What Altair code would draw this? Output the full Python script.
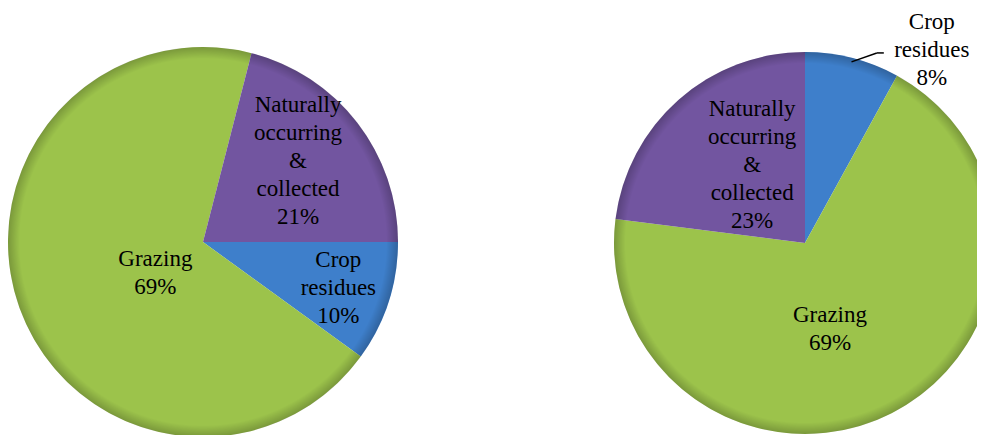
import math
import altair as alt
import pandas as pd

# ---- data ----
categories = ["Crop residues", "Grazing", "Naturally occurring & collected"]
label_names = ["Crop\nresidues", "Grazing", "Naturally\noccurring\n&\ncollected"]
left_values = [10, 69, 21]
right_values = [8, 69, 23]
colors = ["#3E7FCB", "#9CC34B", "#7255A0"]

LINE_H = 28


def make_df(values):
    return pd.DataFrame({
        "cat": categories,
        "value": values,
        "ord": list(range(len(categories))),
        "label": [f"{n}\n{v}%" for n, v in zip(label_names, values)],
    })


def cat_expr(mapping):
    expr = "0"
    for k, v in mapping.items():
        expr = f"(datum.cat == '{k}' ? {v} : {expr})"
    return expr


color_scale = alt.Scale(domain=categories, range=colors)

rim = {
    "gradient": "radial",
    "x1": 0.5, "y1": 0.5, "r1": 0,
    "x2": 0.5, "y2": 0.5, "r2": 0.5,
    "stops": [
        {"offset": 0, "color": "rgba(0,0,0,0)"},
        {"offset": 0.94, "color": "rgba(0,0,0,0)"},
        {"offset": 1, "color": "rgba(0,0,0,0.22)"},
    ],
}


def pie(values, cx, cy, R, start_deg, lab_r, lab_adj_deg, leader=None):
    start = math.radians(start_deg)
    adj = {k: math.radians(v) for k, v in lab_adj_deg.items()}
    base = (
        alt.Chart(make_df(values))
        .transform_window(cum="sum(value)", sort=[alt.SortField("ord")], frame=[None, 0])
        .transform_joinaggregate(total="sum(value)")
        .transform_calculate(
            t0=f"{start} + 2*PI*(datum.cum - datum.value)/datum.total",
            t1=f"{start} + 2*PI*datum.cum/datum.total",
        )
        .transform_calculate(
            tm="(datum.t0 + datum.t1)/2",
            lr=cat_expr(lab_r),
            nl="length(split(datum.label, '\\n'))",
        )
        .transform_calculate(ta=f"datum.tm + {cat_expr(adj)}")
        .transform_calculate(
            lx=f"{cx} + datum.lr*sin(datum.ta)",
            ly=f"{cy} - datum.lr*cos(datum.ta)",
        )
        .transform_calculate(ly0=f"datum.ly - (datum.nl - 1)*{LINE_H}/2")
    )
    arcs = base.mark_arc(radius=R).encode(
        theta=alt.Theta("t0:Q", scale=None),
        theta2=alt.Theta2("t1:Q"),
        color=alt.Color("cat:N", scale=color_scale, legend=None),
        x=alt.value(cx),
        y=alt.value(cy),
    )
    shade = (
        base.transform_aggregate(total="sum(value)")
        .mark_arc(radius=R, fill=rim)
        .encode(theta=alt.value(0), theta2=alt.value(2 * math.pi), x=alt.value(cx), y=alt.value(cy))
    )
    texts = base.mark_text(
        font="Liberation Serif", fontSize=23, lineHeight=LINE_H, lineBreak="\n",
        align="center", baseline="middle", color="#000000",
    ).encode(
        x=alt.X("lx:Q", scale=None),
        y=alt.Y("ly0:Q", scale=None),
        text="label:N",
    )
    layers = [arcs, shade, texts]
    if leader:
        lb = base.transform_filter(f"datum.cat == '{leader}'").transform_calculate(
            px=f"{cx} + {R - 4}*sin(datum.tm)",
            py=f"{cy} - {R - 4}*cos(datum.tm)",
            ex="datum.lx - 55", ey="datum.ly + 3", fx="datum.lx - 48",
        )
        r1 = lb.mark_rule(color="#000000", strokeWidth=1.5).encode(
            x=alt.X("px:Q", scale=None), y=alt.Y("py:Q", scale=None),
            x2="ex:Q", y2="ey:Q",
        )
        r2 = lb.mark_rule(color="#000000", strokeWidth=1.5).encode(
            x=alt.X("ex:Q", scale=None), y=alt.Y("ey:Q", scale=None),
            x2="fx:Q", y2="ey:Q",
        )
        layers += [r1, r2]
    return layers


left = pie(
    left_values, 195, 234, 195, 90,
    {"Crop residues": 143, "Grazing": 57, "Naturally occurring & collected": 125},
    {"Crop residues": 0.8, "Grazing": -13.5, "Naturally occurring & collected": -2.7},
)
right = pie(
    right_values, 797, 235, 191, 0,
    {"Crop residues": 231, "Grazing": 90, "Naturally occurring & collected": 94},
    {"Crop residues": 18.9, "Grazing": 10.9, "Naturally occurring & collected": 7.2},
    leader="Crop residues",
)

chart = (
    alt.layer(*left, *right)
    .properties(width=969, height=427, padding=0, autosize="none", background="#ffffff")
    .configure_view(stroke=None)
)

chart.save("out.html", embed_options={"renderer": "svg", "actions": False})
